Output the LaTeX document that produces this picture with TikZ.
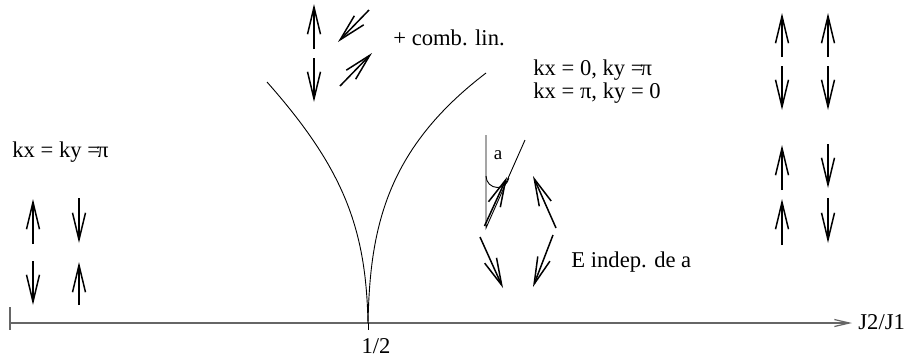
\documentclass[tikz,border=0pt]{standalone}
\usepackage{fontspec}
\setmainfont{Liberation Serif}
\usetikzlibrary{arrows.meta}
\begin{document}
\begin{tikzpicture}[x=0.5pt,y=-0.5pt,
  spin/.style={-{Straight Barb[length=13.5pt,width=6.5pt]}, line width=0.75pt},
  thin line/.style={line width=0.45pt},
  axis line/.style={line width=0.6pt, draw=black!60, -{Straight Barb[length=7.5pt,width=3.5pt]}},
  lbl/.style={inner sep=0pt, font=\fontsize{11.3}{13}\selectfont},
  small lbl/.style={inner sep=0pt, font=\fontsize{9.5}{11}\selectfont}]
\useasboundingbox (0,0) rectangle (909,361);

% axis
\coordinate (ax0) at (10,323);
\coordinate (ax1) at (852,323);
\draw[axis line] (ax0) -- (ax1);
\draw[line width=0.6pt, draw=black!60] (10,307) -- (10,330);
\node[lbl, anchor=base west] (j) at (858,329) {J2/J1};
\coordinate (cusp) at (368,323);
\draw[thin line] (cusp) -- (368,330);
\node[lbl, anchor=base] (half) at (376,353) {1/2};

% cusp curves
\draw[thin line] (267,82) .. controls (345,170) and (366,230) .. (cusp);
\draw[thin line] (486,73) .. controls (385,150) and (370,230) .. (cusp);

% top group
\draw[spin] (314,49) -- (314,4);
\draw[spin] (314,58) -- (314,102);
\draw[spin] (369,10) -- (338,42);
\draw[spin] (340,86) -- (372,53);
\node[lbl, anchor=base west] (comb) at (393,45) {+ comb. lin.};

% k labels
\node[lbl, anchor=base west] (k1) at (533,75) {kx = 0, ky =\kern-1.5pt π};
\node[lbl, anchor=base west] (k2) at (533,98) {kx = π, ky = 0};
\node[lbl, anchor=base west] (k3) at (12,157) {kx = ky =\kern-1.5pt π};

% left spins
\draw[spin] (33,244) -- (33,199);
\draw[spin] (79,198) -- (79,243);
\draw[spin] (33,261) -- (33,305);
\draw[spin] (79,305) -- (79,262);

% right spins
\draw[spin] (782,57) -- (782,13);
\draw[spin] (828,57) -- (828,13);
\draw[spin] (782,66) -- (782,110);
\draw[spin] (828,66) -- (828,110);
\draw[spin] (782,190) -- (782,145);
\draw[spin] (828,144) -- (828,188);
\draw[spin] (782,245) -- (782,199);
\draw[spin] (828,198) -- (828,243);

% angle group
\draw[thin line] (486,135) -- (486,228) -- (525,140);
\draw[thin line] (486,176) arc[start angle=180, end angle=10, radius=11.5];
\node[small lbl, anchor=base] (a) at (498,159) {a};
\draw[spin] (484.5,226) -- (507,177);
\draw[spin] (556,228) -- (533,176);
\draw[spin] (553,235) -- (533,287);
\draw[spin] (480,237) -- (503,288);
\node[lbl, anchor=base west] (e) at (571,267) {E indep. de a};
\end{tikzpicture}
\end{document}
